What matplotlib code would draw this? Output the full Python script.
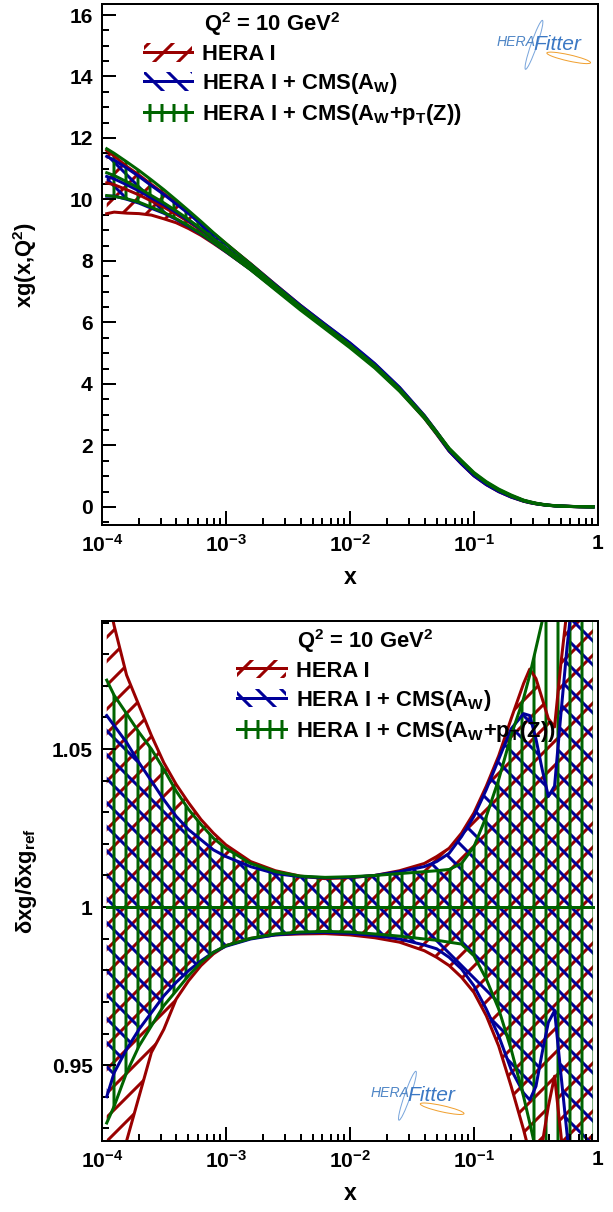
import numpy as np
import matplotlib
matplotlib.use("Agg")
import matplotlib.pyplot as plt
from matplotlib.patches import Patch, Ellipse
from matplotlib.lines import Line2D
from matplotlib.ticker import MultipleLocator, FixedLocator, LogLocator, FuncFormatter, NullFormatter

plt.rcParams['font.family'] = ['Liberation Sans', 'DejaVu Sans']
plt.rcParams['font.weight'] = 'bold'
plt.rcParams['axes.labelweight'] = 'bold'
plt.rcParams['mathtext.fontset'] = 'custom'
plt.rcParams['mathtext.rm'] = 'Liberation Sans:bold'
plt.rcParams['mathtext.it'] = 'Liberation Sans:bold'
plt.rcParams['mathtext.bf'] = 'Liberation Sans:bold'
plt.rcParams['mathtext.default'] = 'rm'
plt.rcParams['hatch.linewidth'] = 3.0
plt.rcParams['axes.linewidth'] = 2

# log10(x) sampling of the PDF curves
log_x = [-3.96, -3.9, -3.8, -3.7, -3.6, -3.5, -3.4, -3.3, -3.2, -3.1, -3.0,
         -2.8, -2.6, -2.4, -2.2, -2.0, -1.8, -1.6, -1.4, -1.3, -1.2, -1.1,
         -1.0, -0.9, -0.8, -0.7, -0.6, -0.55, -0.5, -0.45, -0.4, -0.35,
         -0.3, -0.25, -0.2, -0.15, -0.1, -0.04]

# central xg(x, Q2=10) for each fit
xg_hera = [10.54, 10.48, 10.32, 10.15, 9.95, 9.75, 9.52, 9.27, 9.0, 8.7, 8.4,
           7.8, 7.15, 6.5, 5.88, 5.27, 4.6, 3.83, 2.93, 2.4, 1.85, 1.43,
           1.04, 0.75, 0.52, 0.34, 0.2, 0.15, 0.11, 0.08, 0.055, 0.04,
           0.028, 0.02, 0.014, 0.01, 0.007, 0.004]
xg_aw = [10.75, 10.67, 10.48, 10.28, 10.05, 9.83, 9.58, 9.31, 9.03, 8.72, 8.41,
         7.8, 7.15, 6.5, 5.89, 5.29, 4.62, 3.85, 2.94, 2.41, 1.85, 1.43,
         1.04, 0.75, 0.52, 0.34, 0.2, 0.15, 0.11, 0.08, 0.055, 0.04,
         0.028, 0.02, 0.014, 0.01, 0.007, 0.004]
xg_awpt = [10.87, 10.78, 10.58, 10.37, 10.13, 9.89, 9.63, 9.35, 9.05, 8.73, 8.42,
           7.79, 7.12, 6.46, 5.84, 5.22, 4.56, 3.8, 2.92, 2.41, 1.89, 1.49,
           1.1, 0.8, 0.56, 0.37, 0.21, 0.16, 0.115, 0.082, 0.056, 0.04,
           0.028, 0.02, 0.014, 0.01, 0.007, 0.004]

# relative uncertainty bands (upper / lower edge over central value)
hera_up = [1.100, 1.089, 1.0734, 1.0638, 1.0543, 1.0457, 1.0388, 1.033, 1.0277, 1.0234, 1.0197,
           1.0144, 1.0115, 1.0098, 1.009, 1.0093, 1.010, 1.0115, 1.0138, 1.016, 1.0186, 1.0234,
           1.0298, 1.0383, 1.0479, 1.0596, 1.0707, 1.0753, 1.0723, 1.066, 1.0596, 1.057,
           1.0766, 1.094, 1.12, 1.14, 1.16, 1.18]
hera_lo = [0.905, 0.915, 0.926, 0.940, 0.954, 0.9613, 0.9709, 0.9767, 0.9815, 0.9852, 0.9878,
           0.9901, 0.9912, 0.9915, 0.9916, 0.9912, 0.9903, 0.9889, 0.9862, 0.9841, 0.9815, 0.9778,
           0.973, 0.9656, 0.956, 0.9433, 0.9296, 0.922, 0.918, 0.925, 0.937, 0.9465,
           0.9285, 0.91, 0.89, 0.88, 0.87, 0.86]
aw_up = [1.0606, 1.0574, 1.0521, 1.0457, 1.0399, 1.034, 1.0287, 1.0245, 1.0213, 1.0181, 1.016,
         1.0128, 1.0106, 1.0096, 1.0093, 1.0094, 1.01, 1.0112, 1.0128, 1.0144, 1.017, 1.0223,
         1.0287, 1.0372, 1.0468, 1.0564, 1.0612, 1.0606, 1.0532, 1.0436, 1.035, 1.0383,
         1.0606, 1.082, 1.10, 1.12, 1.13, 1.14]
aw_lo = [0.940, 0.9476, 0.955, 0.9613, 0.9666, 0.9719, 0.9762, 0.9799, 0.983, 0.9857, 0.9876,
         0.9899, 0.9912, 0.9918, 0.992, 0.9917, 0.991, 0.9899, 0.988, 0.9868, 0.9841, 0.9804,
         0.9751, 0.9677, 0.9592, 0.9486, 0.9412, 0.939, 0.9433, 0.9539, 0.9635, 0.9672,
         0.9476, 0.9285, 0.91, 0.89, 0.88, 0.87]
awpt_up = [1.0718, 1.067, 1.0612, 1.0553, 1.05, 1.0436, 1.0367, 1.0309, 1.0261, 1.0218, 1.0186,
           1.0138, 1.0112, 1.0098, 1.0094, 1.0096, 1.01, 1.0106, 1.0112, 1.0115, 1.0119, 1.0138,
           1.0191, 1.0287, 1.0404, 1.0543, 1.066, 1.0734, 1.0819, 1.0904, 1.11, 1.13,
           1.15, 1.16, 1.17, 1.18, 1.19, 1.2]
awpt_lo = [0.9317, 0.937, 0.9476, 0.956, 0.9624, 0.9688, 0.9735, 0.9783, 0.9825, 0.9857, 0.9878,
           0.9901, 0.9915, 0.9921, 0.9923, 0.9921, 0.9915, 0.9908, 0.9899, 0.9895, 0.9889, 0.9883,
           0.9846, 0.9772, 0.9677, 0.955, 0.9401, 0.9317, 0.923, 0.91, 0.90, 0.89,
           0.88, 0.87, 0.86, 0.85, 0.84, 0.83]

labels = ['HERA I', r'HERA I + CMS(A$_{W}$)', r'HERA I + CMS(A$_{W}$+p$_{T}$(Z))']
colors = ['#990000', '#000099', '#006400']
hatches = ['/', '\\', '|']

x = 10 ** np.array(log_x)
fits = [
    (np.array(xg_hera), np.array(hera_lo), np.array(hera_up)),
    (np.array(xg_aw), np.array(aw_lo), np.array(aw_up)),
    (np.array(xg_awpt), np.array(awpt_lo), np.array(awpt_up)),
]


def draw_band(ax, lo, mid, hi, color, hatch):
    band = ax.fill_between(x, lo, hi, facecolor='none', edgecolor=color, hatch=hatch, linewidth=0)
    if hasattr(band, 'set_hatch_linewidth'):
        band.set_hatch_linewidth(3.0)
    for y in (lo, mid, hi):
        ax.plot(x, y, color=color, lw=3)


def x_label_fmt(v, pos):
    e = int(round(np.log10(v)))
    return '1' if e == 0 else r'$10^{%d}$' % e


def style_axes(ax):
    ax.set_xscale('log')
    ax.set_xlim(1e-4, 1)
    ax.xaxis.set_major_locator(LogLocator(base=10, numticks=10))
    ax.xaxis.set_minor_locator(LogLocator(base=10, subs=np.arange(2, 10), numticks=50))
    ax.xaxis.set_major_formatter(FuncFormatter(x_label_fmt))
    ax.xaxis.set_minor_formatter(NullFormatter())
    ax.tick_params(which='both', direction='in', top=False, right=False, width=2, labelsize=21)
    ax.tick_params(which='major', length=14)
    ax.tick_params(which='minor', length=7)
    ax.tick_params(axis='x', pad=9)
    ax.tick_params(axis='y', pad=9)
    ax.set_xlabel('x', fontsize=23, labelpad=10)
    ax.yaxis.set_label_coords(-0.127, 0.5)


def add_logo(ax, x0, y0):
    ax.text(x0, y0, 'HERA', transform=ax.transAxes, style='italic', weight='normal',
            fontsize=14, color='#4f86c6', va='center', ha='left')
    ax.text(x0 + 0.074, y0 - 0.004, 'Fitter', transform=ax.transAxes, style='italic',
            weight='normal', fontsize=21, color='#3b78c4', va='center', ha='left')
    ax.add_patch(Ellipse((x0 + 0.145, y0 - 0.03), 0.09, 0.012, angle=-12, transform=ax.transAxes,
                         facecolor='none', edgecolor='#f0a030', lw=1))
    ax.add_patch(Ellipse((x0 + 0.075, y0 - 0.005), 0.012, 0.1, angle=-20, transform=ax.transAxes,
                         facecolor='none', edgecolor='#7aa6dc', lw=1))


def add_legend(ax, x0, y_title, y_leg):
    ax.text(x0 + 0.121, y_title, r'Q$^{2}$ = 10 GeV$^{2}$', transform=ax.transAxes,
            fontsize=22, va='baseline', ha='left')
    handles = [(Patch(facecolor='none', edgecolor=c, hatch=h, linewidth=0),
                Line2D([], [], color=c, lw=3)) for c, h in zip(colors, hatches)]
    ax.legend(handles, labels, loc='upper left', bbox_to_anchor=(x0, y_leg), frameon=False,
              fontsize=22, handlelength=2.2, handleheight=0.9, handletextpad=0.45,
              labelspacing=0.28, borderpad=0, borderaxespad=0)


fig = plt.figure(figsize=(613 / 72, 1212 / 72), dpi=72)
ax1 = fig.add_axes([0.166, 0.567, 0.8095, 0.4295])
ax2 = fig.add_axes([0.166, 0.0586, 0.8095, 0.429])

# top: xg with uncertainty bands
for (mid, lo, hi), c, h in zip(fits, colors, hatches):
    draw_band(ax1, mid * lo, mid, mid * hi, c, h)
style_axes(ax1)
ax1.set_ylim(-0.58, 16.35)
ax1.yaxis.set_major_locator(MultipleLocator(2))
ax1.yaxis.set_minor_locator(MultipleLocator(0.5))
ax1.set_ylabel(r'xg(x,Q$^{2}$)', fontsize=22)
add_legend(ax1, 0.085, 0.948, 0.925)
add_logo(ax1, 0.796, 0.927)

# bottom: relative uncertainties
for (mid, lo, hi), c, h in zip(fits, colors, hatches):
    draw_band(ax2, lo, np.ones_like(lo), hi, c, h)
style_axes(ax2)
ax2.set_ylim(0.926, 1.0905)
ax2.yaxis.set_major_locator(FixedLocator([0.95, 1.0, 1.05]))
ax2.yaxis.set_major_formatter(FuncFormatter(lambda v, p: '%g' % v))
ax2.yaxis.set_minor_locator(MultipleLocator(0.01))
ax2.set_ylabel(r'δxg/δxg$_{ref}$', fontsize=22)
add_legend(ax2, 0.273, 0.948, 0.925)
add_logo(ax2, 0.541, 0.092)

fig.savefig('out.png', dpi=72)
